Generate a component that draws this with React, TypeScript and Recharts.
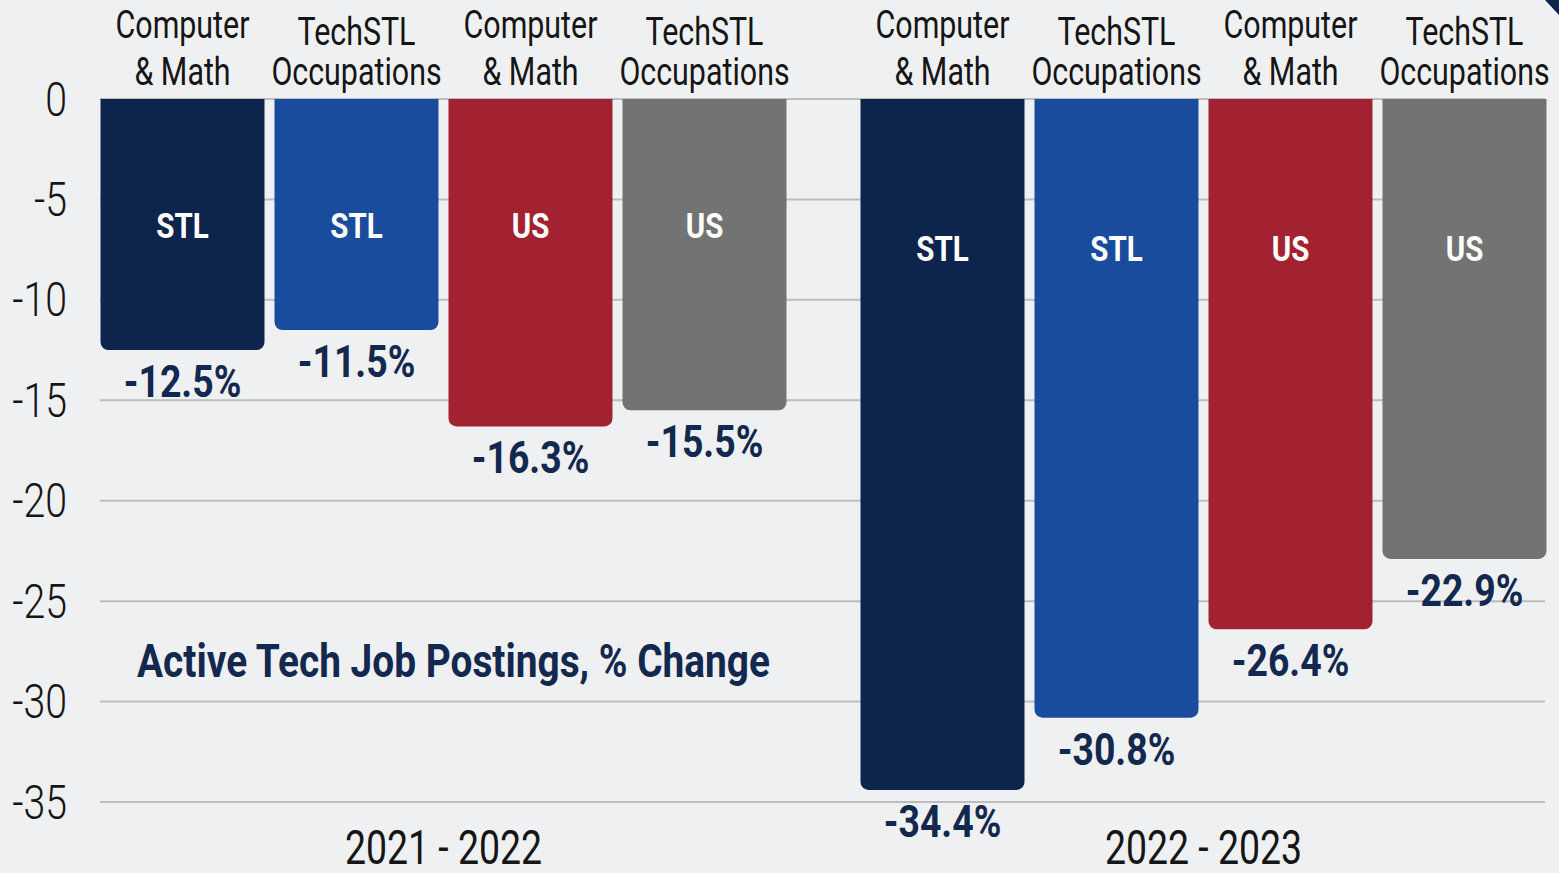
import { BarChart, Bar, XAxis, YAxis, CartesianGrid, LabelList } from "recharts";

const periods = ["2021 - 2022", "2022 - 2023"];
const stlComputerMath = [-12.5, -34.4];
const stlTechOccupations = [-11.5, -30.8];
const usComputerMath = [-16.3, -26.4];
const usTechOccupations = [-15.5, -22.9];
const yTicks = [0, -5, -10, -15, -20, -25, -30, -35];

const seriesKeys = ["stlCM", "stlTO", "usCM", "usTO"];
const seriesTitles = [
  ["Computer", "& Math"],
  ["TechSTL", "Occupations"],
  ["Computer", "& Math"],
  ["TechSTL", "Occupations"],
];
const seriesRegions = ["STL", "STL", "US", "US"];
const seriesColors = ["#0d254d", "#1a4c9d", "#a32231", "#737373"];

const data = periods.map((period, i) => ({
  period,
  stlCM: stlComputerMath[i],
  stlTO: stlTechOccupations[i],
  usCM: usComputerMath[i],
  usTO: usTechOccupations[i],
}));

const FONT = 'Roboto, "Noto Sans", sans-serif';
const NAVY = "#13284f";
const INK = "#151515";

// narrow text: the source uses a condensed face, so squeeze Roboto horizontally
function NText({ x, y, sx, anchor = "middle", children, ...rest }: any) {
  return (
    <text
      transform={`translate(${x} ${y}) scale(${sx} 1)`}
      x={0}
      y={0}
      textAnchor={anchor}
      dominantBaseline="central"
      fontFamily={FONT}
      {...rest}
    >
      {children}
    </text>
  );
}

const makeLabel = (s: number) => (props: any) => {
  const vb = props.viewBox || props;
  const { x, y, width, height } = vb;
  const { value, index } = props;
  const top = Math.min(y, y + height);
  const bottom = Math.max(y, y + height);
  const cx = x + width / 2;
  const [l1, l2] = seriesTitles[s];
  return (
    <g>
      <NText x={cx} y={top - (s % 2 === 1 ? 67 : 74)} sx={0.8} fontSize={38} fill={INK}>
        {l1}
      </NText>
      <NText x={cx} y={top - 27} sx={0.8} fontSize={38} fill={INK}>
        {l2}
      </NText>
      <NText
        x={cx}
        y={top + (index === 0 ? 126 : 149)}
        sx={0.82}
        fontSize={36}
        fontWeight="bold"
        fill="#ffffff"
      >
        {seriesRegions[s]}
      </NText>
      <NText x={cx} y={bottom + 32} sx={0.85} fontSize={44} fontWeight="bold" fill={NAVY}>
        {`${Number(value).toFixed(1)}%`}
      </NText>
    </g>
  );
};

const XTick = (props: any) => {
  const { x, y, payload } = props;
  return (
    <NText x={x} y={y + 46} sx={0.78} fontSize={48} fill={INK}>
      {payload.value}
    </NText>
  );
};

const YTick = (props: any) => {
  const { y, payload } = props;
  return (
    <NText x={67} y={y} sx={0.8} anchor="end" fontSize={49} fontWeight={300} fill={INK}>
      {payload.value}
    </NText>
  );
};

export default function App() {
  return (
    <div
      style={{
        position: "absolute",
        left: 0,
        top: 0,
        width: 1559,
        height: 873,
        background: "#eff0f2",
        overflow: "hidden",
      }}
    >
      <BarChart
        width={1559}
        height={873}
        data={data}
        margin={{ top: 99, right: 14, bottom: 0, left: 0 }}
        barSize={164}
        barGap={10}
      >
        <CartesianGrid vertical={false} stroke="#bdbdbd" strokeWidth={2} />
        <XAxis
          dataKey="period"
          height={71}
          axisLine={false}
          tickLine={false}
          tickSize={0}
          tickMargin={0}
          tick={<XTick />}
          padding={{ left: -36.5, right: -38.5 }}
        />
        <YAxis
          width={100}
          domain={[-35, 0]}
          ticks={yTicks}
          axisLine={false}
          tickLine={false}
          tick={<YTick />}
        />
        {seriesKeys.map((key, s) => (
          <Bar
            key={key}
            dataKey={key}
            fill={seriesColors[s]}
            radius={[8, 8, 0, 0]}
            isAnimationActive={false}
          >
            <LabelList dataKey={key} content={makeLabel(s)} />
          </Bar>
        ))}
      </BarChart>
      <svg
        width={1559}
        height={873}
        style={{ position: "absolute", left: 0, top: 0, pointerEvents: "none" }}
      >
        <text
          x={137}
          y={660}
          dominantBaseline="central"
          fontFamily={FONT}
          fontSize={47}
          fontWeight="bold"
          fill={NAVY}
          textLength={633}
          lengthAdjust="spacingAndGlyphs"
        >
          Active Tech Job Postings, % Change
        </text>
        <polygon points="1545,0 1559,0 1559,15" fill="#0d254d" />
      </svg>
    </div>
  );
}
